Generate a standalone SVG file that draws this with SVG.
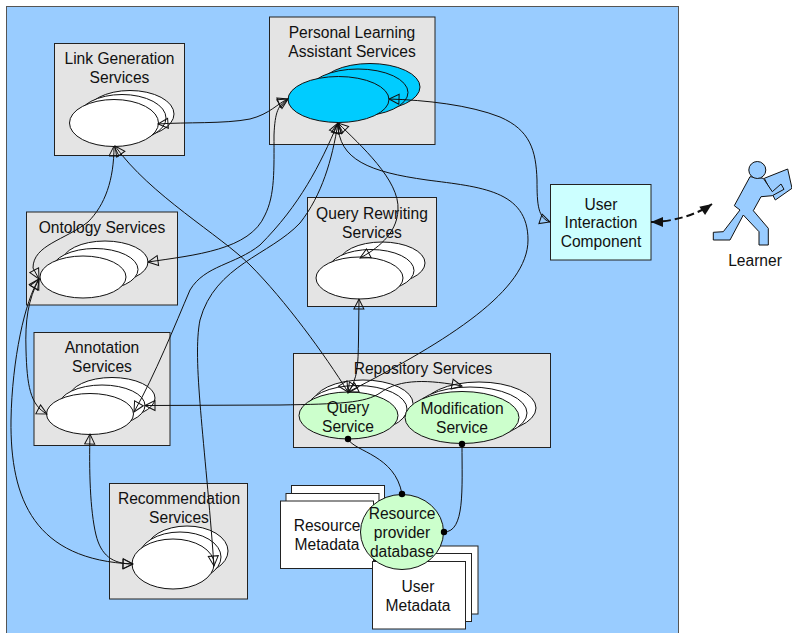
<svg xmlns="http://www.w3.org/2000/svg" width="792" height="633" viewBox="0 0 792 633">
<style>
text{font-family:"Liberation Sans",Arial,sans-serif;font-size:15.6px;fill:#111;text-anchor:middle;transform:translateY(0.8px)}
.box{fill:#e4e4e4;stroke:#222;stroke-width:1}
.el{fill:#fff;stroke:#111;stroke-width:1}
.cy{fill:#00ccff;stroke:#111;stroke-width:1}
.gr{fill:#ccffcc;stroke:#111;stroke-width:1}
.doc{fill:#fff;stroke:#222;stroke-width:1}
.c{fill:none;stroke:#111;stroke-width:1}
.d{fill:none;stroke:#111;stroke-width:2}
</style>
<defs>
<marker id="o" markerUnits="userSpaceOnUse" markerWidth="14" markerHeight="14" refX="11" refY="7" orient="auto-start-reverse"><path d="M1,2 L11,7 L1,12 Z" fill="none" stroke="#111" stroke-width="1"/></marker>
<marker id="f" markerUnits="userSpaceOnUse" markerWidth="16" markerHeight="14" refX="13" refY="7" orient="auto-start-reverse"><path d="M1,2 L13,7 L1,12 Z" fill="#111"/></marker>
<marker id="dot" markerUnits="userSpaceOnUse" markerWidth="8" markerHeight="8" refX="4" refY="4"><circle cx="4" cy="4" r="3.200" fill="#000"/></marker>
</defs>
<rect id="container" x="6.500" y="6.500" width="672" height="640" fill="#99ccff" stroke="#555" stroke-width="1"/>

<g id="link-generation">
<rect class="box" x="54.500" y="43.500" width="130" height="112"/>
<ellipse class="el" cx="130" cy="114" rx="44" ry="23.500"/>
<ellipse class="el" cx="122" cy="118" rx="44" ry="23.500"/>
<ellipse class="el" cx="114" cy="123" rx="44.500" ry="23.500"/>
</g>
<g id="personal-learning">
<rect class="box" x="269.500" y="17" width="165.500" height="127.500"/>
<ellipse class="cy" cx="370" cy="87" rx="50" ry="23.500"/>
<ellipse class="cy" cx="358" cy="92.500" rx="50" ry="23.500"/>
<ellipse class="cy" cx="338.500" cy="99.500" rx="50.500" ry="23"/>
</g>
<g id="query-rewriting">
<rect class="box" x="307.500" y="197.500" width="129" height="109"/>
<ellipse class="el" cx="382" cy="263" rx="43" ry="21"/>
<ellipse class="el" cx="371" cy="270.500" rx="43" ry="21"/>
<ellipse class="el" cx="359.500" cy="278" rx="43.500" ry="21"/>
</g>
<g id="ontology">
<rect class="box" x="26.500" y="212" width="151" height="93"/>
<ellipse class="el" cx="105" cy="262" rx="43" ry="21"/>
<ellipse class="el" cx="95" cy="269.500" rx="43" ry="21"/>
<ellipse class="el" cx="83" cy="277" rx="43" ry="21"/>
</g>
<g id="annotation">
<rect class="box" x="34" y="332.500" width="136" height="113"/>
<ellipse class="el" cx="112" cy="398" rx="43" ry="20.500"/>
<ellipse class="el" cx="102" cy="405.500" rx="43" ry="20.500"/>
<ellipse class="el" cx="90" cy="414" rx="43.500" ry="20.500"/>
</g>
<g id="recommendation">
<rect class="box" x="109.500" y="483.500" width="138" height="115.500"/>
<ellipse class="el" cx="187" cy="551" rx="41" ry="25"/>
<ellipse class="el" cx="180" cy="557" rx="41" ry="25"/>
<ellipse class="el" cx="173" cy="564" rx="41" ry="25"/>
</g>
<g id="repository">
<rect class="box" x="293.500" y="353.500" width="257" height="94"/>
<ellipse class="el" cx="363" cy="403.500" rx="50" ry="23.500"/>
<ellipse class="el" cx="357" cy="409" rx="50" ry="23.500"/>
<ellipse class="gr" cx="348.500" cy="415.500" rx="49.500" ry="23.500"/>
<ellipse class="el" cx="479" cy="408" rx="57" ry="26"/>
<ellipse class="el" cx="470" cy="413" rx="57" ry="26"/>
<ellipse class="gr" cx="462" cy="417.500" rx="57" ry="26"/>
</g>
<g id="resource-metadata">
<rect class="doc" x="291.500" y="485.500" width="93" height="67"/>
<rect class="doc" x="286" y="493.500" width="93" height="67"/>
<rect class="doc" x="280.500" y="501" width="93" height="67.500"/>
<text x="327" y="530">Resource</text><text x="327" y="549">Metadata</text>
</g>
<g id="user-metadata">
<rect class="doc" x="385" y="546" width="93" height="68"/>
<rect class="doc" x="378.500" y="553.500" width="93" height="68"/>
<rect class="doc" x="372.500" y="561.500" width="93" height="67.500"/>
<text x="418" y="591">User</text><text x="418" y="610">Metadata</text>
</g>
<g id="database">
<ellipse class="gr" cx="402" cy="532" rx="41.500" ry="37.500"/>
<text x="402" y="518">Resource</text><text x="402" y="537">provider</text><text x="402" y="556">database</text>
</g>
<g id="user-interaction">
<rect x="550.500" y="184.500" width="100.500" height="75.500" fill="#ccffff" stroke="#222"/>
<text x="601" y="209">User</text><text x="601" y="227.500">Interaction</text><text x="601" y="246">Component</text>
</g>
<g id="learner">
<path d="M764.300,178.300 L787.700,169 L792,188.300 L775.300,200 Z" fill="#99ccff" stroke="#111"/>
<path d="M750,176.700 L763.300,178.300 L772.300,191.700 L781,184 L784,189.300 L772.300,195.700 L761,196.700 L753.300,210.700 L768.300,228.300 L768.300,245 L759,245 L759,231.700 L743.300,215 L730,240 L713.300,240 L713.300,232.300 L723.300,231.700 L740,210 L734.300,205.700 Z" fill="#99ccff" stroke="#111"/>
<circle cx="757.300" cy="170" r="8.500" fill="#99ccff" stroke="#111"/>
<text x="755" y="265">Learner</text>
</g>

<g id="connectors">
<path class="c" marker-start="url(#o)" marker-end="url(#o)" d="M158,124 C185,122 225,124 250,119 C270,114 278,103 288,99"/>
<path class="c" marker-start="url(#o)" marker-end="url(#o)" d="M114,146 C114,180 105,205 88,222 C65,240 33,245 33,268 L39,279"/>
<path class="c" marker-start="url(#o)" marker-end="url(#o)" d="M115,146 C150,195 220,235 250,265 C285,300 325,355 348,392"/>
<path class="c" marker-start="url(#o)" marker-end="url(#o)" d="M288,99 C278,105 275,112 274,135 C274,170 275,195 265,215 C250,250 195,255 148,262"/>
<path class="c" marker-start="url(#o)" marker-end="url(#o)" d="M338,123 C320,165 300,205 260,245 C235,265 205,265 190,290 C175,325 155,375 134,412"/>
<path class="c" marker-start="url(#o)" marker-end="url(#o)" d="M338,123 C332,160 322,195 300,223 C270,255 215,265 200,320 C192,360 205,440 214,566"/>
<path class="c" marker-start="url(#o)" marker-end="url(#o)" d="M39,279 C28,300 25,320 26,350 C27,385 30,405 47,414"/>
<path class="c" marker-start="url(#o)" marker-end="url(#o)" d="M39,279 C25,300 12,360 11,420 C10,500 35,560 133,564"/>
<path class="c" marker-start="url(#o)" marker-end="url(#o)" d="M90,434 C89,470 90,510 96,535 C101,555 112,564 133,564"/>
<path class="c" marker-start="url(#o)" marker-end="url(#o)" d="M145,405.500 L280,405 C340,404 365,403 380,393 C400,378 430,380 462,386"/>
<path class="c" marker-start="url(#o)" marker-end="url(#o)" d="M359,299 L358.500,340 C358,365 358,378 348,393"/>
<path class="c" marker-start="url(#o)" marker-end="url(#o)" d="M338,123 C360,145 400,180 398,210 C397,235 375,250 360,258"/>
<path class="c" marker-start="url(#o)" marker-end="url(#o)" d="M338,123 C338,160 370,172 427,180 C480,187 528,190 528,240 C528,290 450,340 348,392"/>
<path class="c" marker-start="url(#o)" marker-end="url(#o)" d="M389,99 C425,100 470,105 500,117 C530,130 536,150 537,180 C537,205 538,218 550,222"/>
<path class="c" marker-start="url(#dot)" marker-end="url(#dot)" d="M348,439 C355,452 395,455 402,494"/>
<path class="c" marker-start="url(#dot)" marker-end="url(#dot)" d="M462,444 C462,490 465,532 444,532"/>
<path class="d" stroke-dasharray="8,4" marker-start="url(#f)" marker-end="url(#f)" d="M651,222 C670,222 695,216 712,204"/>
</g>

<g id="labels">
<text x="119.500" y="63">Link Generation</text><text x="119.500" y="82">Services</text>
<text x="352" y="37">Personal Learning</text><text x="352" y="56">Assistant Services</text>
<text x="372" y="218">Query Rewriting</text><text x="372" y="237">Services</text>
<text x="102" y="232">Ontology Services</text>
<text x="102" y="352">Annotation</text><text x="102" y="371">Services</text>
<text x="179" y="503">Recommendation</text><text x="179" y="522">Services</text>
<text x="423" y="373">Repository Services</text>
<text x="348" y="412">Query</text><text x="348" y="431">Service</text>
<text x="462" y="413">Modification</text><text x="462" y="432">Service</text>
</g>
</svg>
